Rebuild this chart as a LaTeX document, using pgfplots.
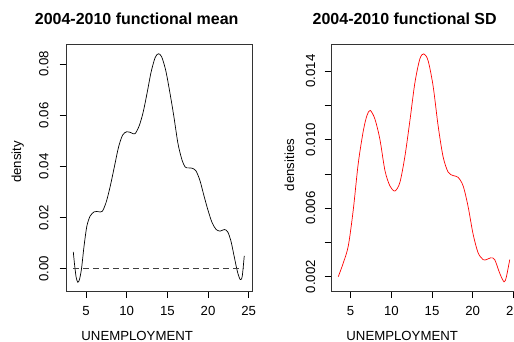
\documentclass[border=0pt]{standalone}
\usepackage{fontspec}
\setmainfont{Liberation Sans}
\usepackage{pgfplots}
\pgfplotsset{compat=1.18}

% R-style base plot: full box, outward ticks on left/bottom only
\pgfplotsset{
  rbase/.style={
    scale only axis, width=185.6bp, height=246.7bp,
    axis line style={black!80, line width=0.6bp},
    tick align=outside, major tick length=7bp,
    xtick pos=bottom, ytick pos=left,
    tick style={black, line width=0.6bp},
    xtick={5,10,15,20,25},
    scaled ticks=false,
    ticklabel style={font=\fontsize{13.2bp}{15bp}\selectfont},
    /pgf/number format/assume math mode=true,
    xticklabel style={anchor=base, yshift=-17bp},
    clip=true,
  }
}

\begin{document}
\begin{tikzpicture}
\begin{axis}[rbase, at={(66.7bp,51bp)}, anchor=south west,
    xmin=2.63, xmax=25.44, ymin=-0.00872, ymax=0.0877,
    ytick={0,0.02,0.04,0.06,0.08},
    yticklabels={0.00,0.02,0.04,0.06,0.08},
    yticklabel style={xshift=-11.4bp, rotate=90, anchor=base}]
  \addplot[black, line width=0.7bp, smooth, tension=0.5] coordinates {
    (3.44,0.0066) (3.6,0.0015) (3.8,-0.0035) (4.0,-0.0053) (4.2,-0.0042)
    (4.45,0.0) (4.75,0.0085) (5.1,0.0165) (5.5,0.0205) (6.0,0.0222)
    (6.5,0.0223) (7.0,0.0224) (7.5,0.0262) (8.0,0.0325) (8.5,0.0400)
    (9.0,0.0475) (9.5,0.0522) (10.0,0.0535) (10.5,0.0532) (11.0,0.0527)
    (11.5,0.0555) (12.0,0.0608) (12.5,0.0685) (13.0,0.0768) (13.5,0.0825)
    (13.9,0.0840) (14.3,0.0828) (14.8,0.0775) (15.3,0.0690) (15.8,0.0595)
    (16.3,0.0490) (16.8,0.0425) (17.2,0.0397) (17.6,0.0394) (18.0,0.0393)
    (18.5,0.0383) (19.0,0.0345) (19.5,0.0285) (20.0,0.0228) (20.5,0.0180)
    (21.0,0.0153) (21.5,0.0147) (22.0,0.0153) (22.4,0.0145) (22.8,0.0110)
    (23.2,0.0050) (23.6,-0.0010) (23.95,-0.0042) (24.2,-0.0030) (24.45,0.0050)
  };
  % zero reference line
  \addplot[black!75, line width=0.6bp, dash pattern=on 6bp off 4bp] coordinates {
    (3.44,0) (24.45,0)
  };
\end{axis}

\begin{axis}[rbase, at={(331.7bp,51bp)}, anchor=south west,
    xmin=2.67, xmax=25.48, ymin=0.001166, ymax=0.015558,
    ytick={0.002,0.004,0.006,0.008,0.010,0.012,0.014},
    yticklabels={0.002,,0.006,,0.010,,0.014},
    yticklabel style={xshift=-9.7bp, rotate=90, anchor=base}]
  \addplot[red, line width=0.7bp, smooth, tension=0.5] coordinates {
    (3.48,0.0020) (4.09,0.0028) (4.71,0.0038) (5.32,0.0059) (5.93,0.0086)
    (6.55,0.0105) (7.0,0.0114) (7.4,0.0117) (7.98,0.0112) (8.6,0.0100)
    (9.21,0.0082) (9.82,0.0073) (10.44,0.0070) (11.05,0.0075) (11.66,0.0090)
    (12.28,0.0111) (12.89,0.0133) (13.5,0.0147) (13.99,0.0150) (14.52,0.0146)
    (15.14,0.0131) (15.75,0.0108) (16.36,0.0090) (16.98,0.0081) (17.59,0.0079)
    (18.2,0.0078) (18.82,0.0073) (19.43,0.0061) (20.04,0.0045) (20.66,0.0034)
    (21.27,0.0030) (21.7,0.0030) (22.21,0.0031) (22.7,0.0030) (23.32,0.0022)
    (23.85,0.0017) (24.14,0.0020) (24.55,0.0030)
  };
\end{axis}

% titles and axis labels
\node[anchor=base, font=\bfseries\fontsize{16bp}{19bp}\selectfont] at (136.7bp,317bp) {2004-2010 functional mean};
\node[anchor=base, font=\bfseries\fontsize{16bp}{19bp}\selectfont] at (404.7bp,317bp) {2004-2010 functional SD};
\node[anchor=base, font=\fontsize{13.2bp}{15bp}\selectfont] at (137.2bp,2bp) {UNEMPLOYMENT};
\node[anchor=base, font=\fontsize{13.2bp}{15bp}\selectfont] at (402.2bp,2bp) {UNEMPLOYMENT};
\node[anchor=base, rotate=90, font=\fontsize{13.2bp}{15bp}\selectfont] at (21bp,180bp) {density};
\node[anchor=base, rotate=90, font=\fontsize{13.2bp}{15bp}\selectfont] at (294bp,177bp) {densities};

\pgfresetboundingbox
\useasboundingbox (0,0) rectangle (514bp,342bp);
\end{tikzpicture}
\end{document}
